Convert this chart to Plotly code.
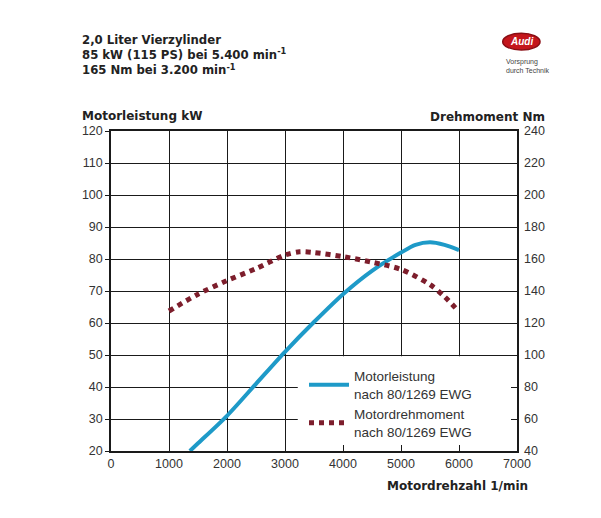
import plotly.graph_objects as go

# ---- data ----
rpm_power = [1360, 1500, 2000, 2500, 3000, 3500, 4000, 4500, 5000, 5250, 5500, 5750, 6000]
power_kw = [20, 22.4, 31, 41, 51, 60.3, 69, 76.3, 82, 84.4, 85.2, 84.4, 82.8]

rpm_torque = [1000, 1500, 2000, 2500, 3000, 3250, 3500, 4000, 4500, 5000, 5500, 5750, 6000]
torque_nm = [127.5, 138, 146.5, 154, 162.5, 164.5, 164, 161.5, 158, 153.5, 144, 136.5, 127]

x_ticks = [0, 1000, 2000, 3000, 4000, 5000, 6000, 7000]
kw_ticks = [20, 30, 40, 50, 60, 70, 80, 90, 100, 110, 120]
nm_ticks = [40, 60, 80, 100, 120, 140, 160, 180, 200, 220, 240]

name_power = "Motorleistung<br>nach 80/1269 EWG"
name_torque = "Motordrehmoment<br>nach 80/1269 EWG"

BLUE = "#1E9AC8"
RED = "#7D1E2C"
FONT = "Liberation Sans, Arial, sans-serif"
BFONT = "DejaVu Sans, Liberation Sans, sans-serif"
TXT = "#222222"

fig = go.Figure()
fig.add_trace(go.Scatter(
    x=rpm_power, y=power_kw, mode="lines", name=name_power,
    line=dict(color=BLUE, width=4, shape="spline", smoothing=0.8),
    yaxis="y", cliponaxis=True))
fig.add_trace(go.Scatter(
    x=rpm_torque, y=torque_nm, mode="lines", name=name_torque,
    line=dict(color=RED, width=5, dash="5px,5px", shape="spline", smoothing=0.8),
    yaxis="y2"))

fig.update_layout(
    width=601, height=518,
    margin=dict(l=111, r=84, t=131, b=67),
    paper_bgcolor="white", plot_bgcolor="white",
    font=dict(family=FONT, size=12, color=TXT),
    showlegend=True,
    legend=dict(x=0.4754, y=0.2825, xanchor="left", yanchor="top",
                bgcolor="rgba(0,0,0,0)", borderwidth=0,
                font=dict(family=FONT, size=13.5, color="#333333"),
                itemwidth=40),
    xaxis=dict(range=[0, 7000], tickvals=x_ticks, ticktext=[str(v) for v in x_ticks],
               showgrid=True, gridcolor="#1a1a1a", gridwidth=1.3,
               showline=True, linecolor="#1a1a1a", linewidth=1.5, mirror=True,
               ticks="inside", ticklen=6, tickcolor="#1a1a1a", tickwidth=1.3,
               zeroline=False, tickfont=dict(size=12.5, color="#333333")),
    yaxis=dict(range=[20, 120], tickvals=kw_ticks,
               showgrid=True, gridcolor="#1a1a1a", gridwidth=1.3,
               showline=True, linecolor="#1a1a1a", linewidth=1.5, mirror=True,
               ticks="outside", ticklen=4, tickcolor="#1a1a1a", tickwidth=1.3,
               zeroline=False, tickfont=dict(size=12.5, color="#333333")),
    yaxis2=dict(range=[40, 240], tickvals=nm_ticks, overlaying="y", side="right",
                showgrid=False, showline=False, zeroline=False,
                ticks="inside", ticklen=6, tickcolor="#1a1a1a", tickwidth=1.3,
                ticklabelstandoff=6,
                tickfont=dict(size=12.5, color="#333333")),
)

# white legend panel hiding the grid in the lower right
fig.add_shape(type="rect", xref="x", yref="y", x0=3220, x1=7000, y0=20, y1=49.6,
              fillcolor="white", line=dict(width=0), layer="between")

# Audi logo
fig.add_shape(type="circle", xref="paper", yref="paper",
              x0=0.9648, x1=1.0567, y0=1.2531, y1=1.3053,
              fillcolor="#C4161C", line=dict(color="#8A0E14", width=1.5))

ann = [
    dict(text="<b>2,0 Liter Vierzylinder<br>85 kW (115 PS) bei 5.400 min<sup>-1</sup><br>165 Nm bei 3.200 min<sup>-1</sup></b>",
         x=-0.0764, y=1.3125, xanchor="left", yanchor="top", align="left",
         font=dict(family=BFONT, size=11.7, color=TXT)),
    dict(text="<b>Motorleistung kW</b>", x=-0.0764, y=1.048, xanchor="left", yanchor="middle",
         font=dict(family=BFONT, size=12, color=TXT)),
    dict(text="<b>Drehmoment Nm</b>", x=1.0732, y=1.0437, xanchor="right", yanchor="middle",
         font=dict(family=BFONT, size=12, color=TXT)),
    dict(text="<b>Motordrehzahl 1/min</b>", x=1.032, y=-0.109, xanchor="right", yanchor="middle",
         font=dict(family=BFONT, size=12, color=TXT)),
    dict(text="<b><i>Audi</i></b>", x=1.0108, y=1.2792, xanchor="center", yanchor="middle",
         font=dict(size=10, color="white")),
    dict(text="Vorsprung<br>durch Technik", x=0.968, y=1.235, xanchor="left", yanchor="top",
         align="left", font=dict(size=7, color="#444444")),
]
for a in ann:
    a.update(xref="paper", yref="paper", showarrow=False)
    fig.add_annotation(**a)

fig.write_html("out.html", config={"displayModeBar": False},
               post_script="document.body.style.margin='0';")
